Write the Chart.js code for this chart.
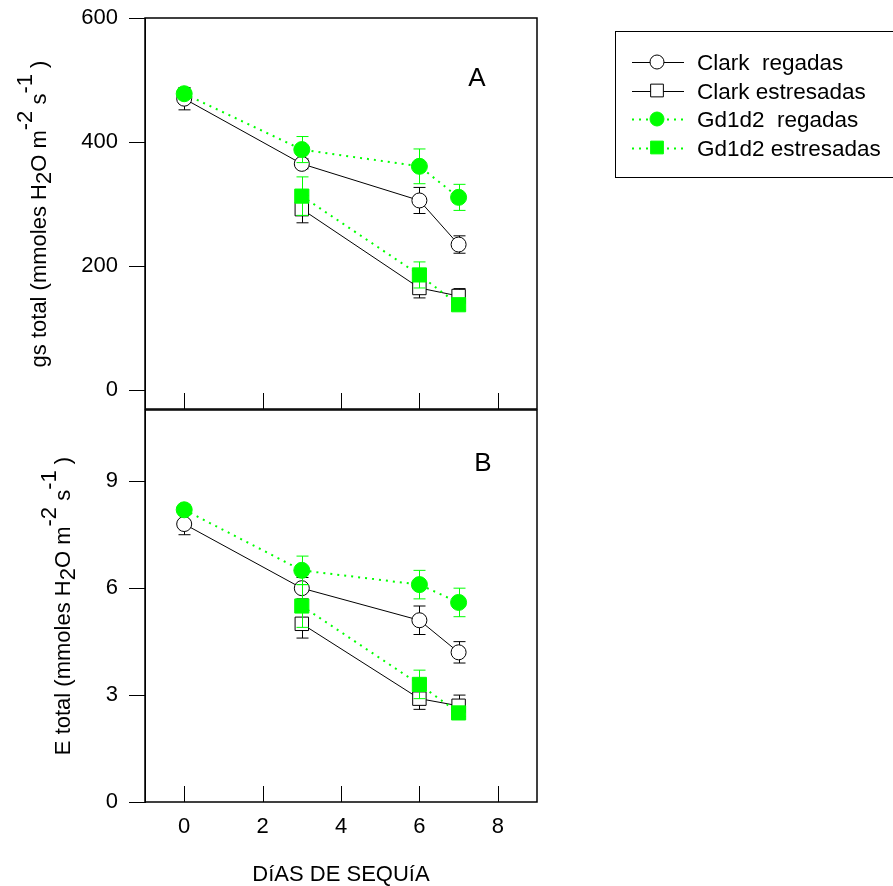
<!DOCTYPE html>
<html>
<head>
<meta charset="utf-8">
<script src="https://cdn.jsdelivr.net/npm/chart.js@4.4.1/dist/chart.umd.min.js"></script>
<style>
  html, body { margin: 0; padding: 0; background: #fff; }
  #wrap { position: relative; width: 893px; height: 886px; overflow: hidden; }
  canvas { position: absolute; left: 0; }
  #gsChart { top: 0; }
  #eChart { top: 399px; }
</style>
</head>
<body>
<div id="wrap">
  <canvas id="gsChart" width="893" height="421"></canvas>
  <canvas id="eChart" width="893" height="487"></canvas>
</div>
<script>
// --- datos ---
const diasRegadas = [0, 3, 6, 7];
const diasEstresadas = [3, 6, 7];
const xTicks = [0, 2, 4, 6, 8];

// A: gs total
const gsTicks = [0, 200, 400, 600];
const gsClarkReg = [470, 365, 306, 235];
const gsClarkRegErr = [18, 8, 21, 14];
const gsClarkEst = [292, 165, 152];
const gsClarkEstErr = [22, 16, 12];
const gsGdReg = [478, 388, 361, 311];
const gsGdRegErr = [8, 21, 28, 21];
const gsGdEst = [313, 186, 138];
const gsGdEstErr = [31, 21, 8];

// B: E total
const eTicks = [0, 3, 6, 9];
const eClarkReg = [7.8, 6.0, 5.1, 4.2];
const eClarkRegErr = [0.3, 0.3, 0.4, 0.3];
const eClarkEst = [5.0, 2.9, 2.7];
const eClarkEstErr = [0.4, 0.3, 0.3];
const eGdReg = [8.2, 6.5, 6.1, 5.6];
const eGdRegErr = [0.15, 0.4, 0.4, 0.4];
const eGdEst = [5.5, 3.3, 2.5];
const eGdEstErr = [0.6, 0.4, 0.15];

const labels = ['Clark  regadas', 'Clark estresadas', 'Gd1d2  regadas', 'Gd1d2 estresadas'];

const FONT = '"Liberation Sans", Arial, sans-serif';
const GREEN = '#00ff00';

const pts = (xs, ys) => xs.map((x, i) => ({ x: x, y: ys[i] }));

function makeDatasets(cReg, cRegErr, cEst, cEstErr, gReg, gRegErr, gEst, gEstErr) {
    const black = { borderColor: '#000', borderWidth: 1, pointBorderColor: '#000', pointBackgroundColor: '#fff', pointBorderWidth: 1, errColor: '#000', order: 1 };
    const green = { borderColor: GREEN, borderWidth: 2, borderDash: [2, 5], pointBorderColor: GREEN, pointBackgroundColor: GREEN, pointBorderWidth: 1, errColor: GREEN, order: 0 };
    return [
        { ...black, label: labels[0], data: pts(diasRegadas, cReg), errors: cRegErr, pointStyle: 'circle', pointRadius: 7.5 },
        { ...black, label: labels[1], data: pts(diasEstresadas, cEst), errors: cEstErr, pointStyle: 'rect', pointRadius: 9.5 },
        { ...green, label: labels[2], data: pts(diasRegadas, gReg), errors: gRegErr, pointStyle: 'circle', pointRadius: 8 },
        { ...green, label: labels[3], data: pts(diasEstresadas, gEst), errors: gEstErr, pointStyle: 'rect', pointRadius: 10 }
    ];
}

// error bars drawn before each dataset so its own markers cover them
const errorBars = {
    id: 'errorBars',
    beforeDatasetDraw(chart, args) {
        const ds = chart.data.datasets[args.index];
        if (!ds.errors) return;
        const ctx = chart.ctx, xs = chart.scales.x, ys = chart.scales.y;
        ctx.save();
        ctx.strokeStyle = ds.errColor;
        ctx.lineWidth = 1;
        ds.data.forEach((p, i) => {
            const e = ds.errors[i];
            const px = Math.round(xs.getPixelForValue(p.x)) + 0.5;
            const top = ys.getPixelForValue(p.y + e);
            const bot = ys.getPixelForValue(p.y - e);
            ctx.beginPath();
            ctx.moveTo(px, top); ctx.lineTo(px, bot);
            ctx.moveTo(px - 6, top); ctx.lineTo(px + 6, top);
            ctx.moveTo(px - 6, bot); ctx.lineTo(px + 6, bot);
            ctx.stroke();
        });
        ctx.restore();
    }
};

// frame + inward x ticks
const frame = {
    id: 'frame',
    afterDraw(chart) {
        const { ctx, chartArea: a } = chart;
        ctx.save();
        ctx.strokeStyle = '#000';
        ctx.lineWidth = 1.5;
        ctx.strokeRect(a.left, a.top, a.right - a.left, a.bottom - a.top);
        ctx.lineWidth = 1;
        ctx.beginPath();
        xTicks.forEach(v => {
            const px = Math.round(chart.scales.x.getPixelForValue(v)) + 0.5;
            ctx.moveTo(px, a.bottom);
            ctx.lineTo(px, a.bottom - 16);
        });
        ctx.stroke();
        ctx.restore();
    }
};

function drawRich(ctx, parts, x, y, size, rotate) {
    ctx.save();
    ctx.translate(x, y);
    if (rotate) ctx.rotate(-Math.PI / 2);
    ctx.font = size + 'px ' + FONT;
    ctx.fillStyle = '#000';
    ctx.textAlign = 'left';
    ctx.textBaseline = 'alphabetic';
    const total = parts.reduce((w, p) => w + ctx.measureText(p.t).width, 0);
    let cx = -total / 2;
    parts.forEach(p => {
        ctx.fillText(p.t, cx, p.dy || 0);
        cx += ctx.measureText(p.t).width;
    });
    ctx.restore();
}

const unitParts = [
    { t: ' (mmoles H' }, { t: '2', dy: 5 }, { t: 'O m' }, { t: '-2', dy: -14 },
    { t: ' s' }, { t: '-1', dy: -14 }, { t: ' )' }
];

const textsA = {
    id: 'textsA',
    afterDraw(chart) {
        const ctx = chart.ctx;
        drawRich(ctx, [{ t: 'gs total' }].concat(unitParts), 46, 214, 22, true);
        drawRich(ctx, [{ t: 'A' }], 477, 86, 26, false);

        // legend
        const sets = chart.data.datasets;
        ctx.save();
        ctx.strokeStyle = '#000';
        ctx.lineWidth = 1;
        ctx.strokeRect(615.5, 31.5, 300, 146);
        sets.forEach((ds, i) => {
            const y = 62 + i * 28.5;
            ctx.save();
            ctx.strokeStyle = ds.borderColor;
            ctx.lineWidth = ds.borderWidth;
            ctx.setLineDash(ds.borderDash || []);
            ctx.beginPath();
            ctx.moveTo(632, Math.round(y) + 0.5);
            ctx.lineTo(684, Math.round(y) + 0.5);
            ctx.stroke();
            ctx.setLineDash([]);
            ctx.fillStyle = ds.pointBackgroundColor;
            ctx.strokeStyle = ds.pointBorderColor;
            ctx.lineWidth = ds.pointBorderWidth;
            Chart.helpers.drawPoint(ctx, { pointStyle: ds.pointStyle, radius: ds.pointStyle === 'rect' ? 9 : 7, borderWidth: 1, rotation: 0 }, 657, y);
            ctx.restore();
            ctx.fillStyle = '#000';
            ctx.font = '22.5px ' + FONT;
            ctx.textAlign = 'left';
            ctx.textBaseline = 'alphabetic';
            ctx.fillText(ds.label, 697, y + 8);
        });
        ctx.restore();
    }
};

// canvas B starts at y=399 on the page
const textsB = {
    id: 'textsB',
    afterDraw(chart) {
        const ctx = chart.ctx;
        drawRich(ctx, [{ t: 'E total' }].concat(unitParts), 70, 207, 22, true);
        drawRich(ctx, [{ t: 'B' }], 483, 72, 26, false);
        drawRich(ctx, [{ t: 'DíAS DE SEQUíA' }], 341, 482, 22, false);
    }
};

const noPad = s => { s.paddingTop = 0; s.paddingBottom = 0; s.paddingLeft = 0; s.paddingRight = 0; };

function baseOptions(yMin, yMax, yTicks, xLabels, xHeight, padTop) {
    return {
        responsive: false,
        animation: false,
        events: [],
        layout: { padding: { top: padTop, right: 356, bottom: 0, left: 0 } },
        plugins: { legend: { display: false }, tooltip: { enabled: false } },
        scales: {
            x: {
                type: 'linear', min: -1, max: 9,
                afterBuildTicks: s => { s.ticks = xTicks.map(v => ({ value: v })); },
                afterFit: s => { s.height = xHeight; noPad(s); },
                grid: { display: false, drawTicks: false },
                border: { display: false },
                ticks: { display: xLabels, color: '#000', font: { size: 22, family: FONT }, padding: 12 }
            },
            y: {
                min: yMin, max: yMax,
                afterBuildTicks: s => { s.ticks = yTicks.map(v => ({ value: v })); },
                afterFit: s => { s.width = 145; noPad(s); },
                grid: { drawOnChartArea: false, tickLength: 16, color: '#000' },
                border: { color: '#000' },
                ticks: { color: '#000', font: { size: 22, family: FONT }, padding: 11 }
            }
        }
    };
}

new Chart(document.getElementById('gsChart'), {
    type: 'line',
    data: { datasets: makeDatasets(gsClarkReg, gsClarkRegErr, gsClarkEst, gsClarkEstErr, gsGdReg, gsGdRegErr, gsGdEst, gsGdEstErr) },
    options: baseOptions(-30, 600, gsTicks, false, 12, 18),
    plugins: [errorBars, frame, textsA]
});

new Chart(document.getElementById('eChart'), {
    type: 'line',
    data: { datasets: makeDatasets(eClarkReg, eClarkRegErr, eClarkEst, eClarkEstErr, eGdReg, eGdRegErr, eGdEst, eGdEstErr) },
    options: baseOptions(0, 11, eTicks, true, 84, 11),
    plugins: [errorBars, frame, textsB]
});
</script>
</body>
</html>
